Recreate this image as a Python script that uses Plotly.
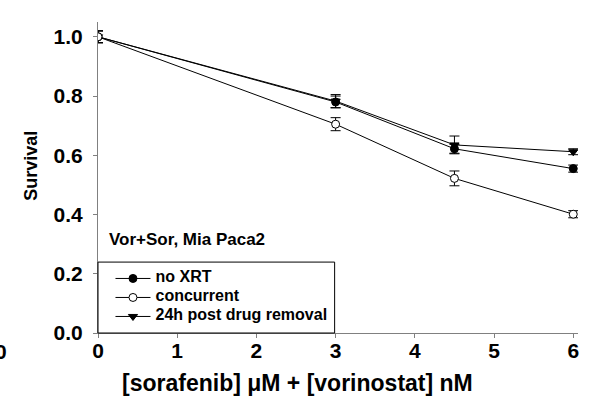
import plotly.graph_objects as go

doses = [0, 3, 4.5, 6]
no_xrt = [1.0, 0.78, 0.622, 0.555]
no_xrt_err = [0.02, 0.02, 0.015, 0.012]
concurrent = [1.0, 0.705, 0.522, 0.401]
concurrent_err = [0.02, 0.022, 0.025, 0.012]
post24 = [1.0, 0.783, 0.635, 0.612]
post24_err = [0.02, 0.022, 0.03, 0.01]

names = ["no XRT", "concurrent", "24h post drug removal"]
x_ticks = [0, 1, 2, 3, 4, 5, 6]
y_ticks = [0.0, 0.2, 0.4, 0.6, 0.8, 1.0]

FONT = "Arial, Liberation Sans, sans-serif"

fig = go.Figure()

def add(y, err, name, symbol, fill, legendrank):
    fig.add_trace(go.Scatter(
        x=doses, y=y, mode="lines+markers", legendrank=legendrank,
        name=f'<span style="font-size:16px"><b>{name}</b></span>',
        line=dict(color="black", width=1),
        marker=dict(symbol=symbol, size=8, color=fill,
                    line=dict(color="black", width=1)),
        error_y=dict(type="data", array=err, visible=True,
                     color="black", thickness=1, width=5),
    ))

add(post24, post24_err, names[2], "triangle-down", "black", 3)
add(no_xrt, no_xrt_err, names[0], "circle", "black", 1)
add(concurrent, concurrent_err, names[1], "circle", "white", 2)

fig.update_layout(
    width=600, height=415,
    margin=dict(l=98, r=22, t=22, b=82),
    plot_bgcolor="white", paper_bgcolor="white",
    font=dict(family=FONT, color="black"),
    showlegend=True,
    legend=dict(
        x=0.026, y=0.222, xanchor="left", yanchor="top",
        bgcolor="rgba(0,0,0,0)", borderwidth=0,
        font=dict(family=FONT, size=9, color="black"),
        itemwidth=35, tracegroupgap=0,
    ),
    xaxis=dict(
        range=[0, 6.06], tickvals=x_ticks, ticktext=[f"<b>{v}</b>" for v in x_ticks],
        showgrid=False, zeroline=False, showline=True, linecolor="#808080",
        linewidth=1, ticks="outside", ticklen=4, tickcolor="#808080",
        tickfont=dict(family=FONT, size=21), ticklabelstandoff=-5,
    ),
    yaxis=dict(
        range=[0, 1.05], tickvals=y_ticks, ticktext=[f"<b>{v:.1f}</b>" for v in y_ticks],
        showgrid=False, zeroline=False, showline=True, linecolor="#808080",
        linewidth=1, ticks="outside", ticklen=4, tickcolor="#808080",
        tickfont=dict(family=FONT, size=21), ticklabelstandoff=6,
    ),
    shapes=[dict(type="rect", xref="paper", yref="paper",
                 x0=0, x1=0.493, y0=0, y1=0.228,
                 line=dict(color="black", width=1), fillcolor="rgba(0,0,0,0)")],
    annotations=[
        dict(text="<b>[sorafenib] μM + [vorinostat] nM</b>", xref="paper", yref="paper",
             x=(300 - 98) / 485, y=-50 / 311, xanchor="center", yanchor="middle",
             showarrow=False, font=dict(family=FONT, size=23)),
        dict(text="<b>Survival</b>", xref="paper", yref="paper", textangle=-90,
             x=(30 - 98) / 485, y=(333 - 166) / 311, xanchor="center", yanchor="middle",
             showarrow=False, font=dict(family=FONT, size=18)),
        dict(text="<b>Vor+Sor, Mia Paca2</b>", xref="paper", yref="paper",
             x=0.018, y=0.30, xanchor="left", yanchor="middle", showarrow=False,
             font=dict(family=FONT, size=17)),
        dict(text="<b>0</b>", xref="paper", yref="paper",
             x=(8 - 98) / 485, y=-18 / 311, xanchor="right", yanchor="middle",
             showarrow=False, font=dict(family=FONT, size=21)),
    ],
)

fig.write_html("out.html", config={"displayModeBar": False},
               post_script="document.body.style.margin='0';")
